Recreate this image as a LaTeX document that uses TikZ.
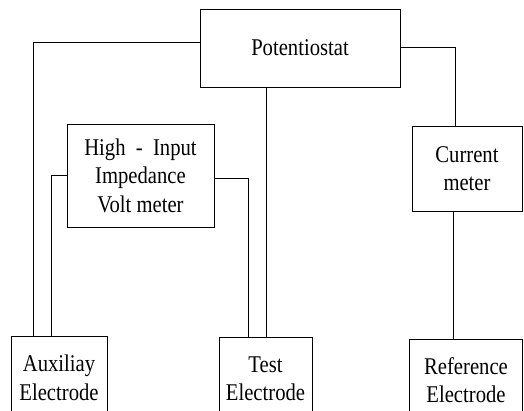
\documentclass[tikz,border=0pt]{standalone}
\usepackage{fontspec}
\setmainfont[FakeStretch=0.86]{Liberation Serif}
\begin{document}
\begin{tikzpicture}[x=1pt,y=-1pt,
  blk/.style={draw, line width=0.7pt, inner sep=0pt, align=center,
    font=\fontsize{24}{28.5}\selectfont},
  wire/.style={line width=0.7pt}]
\useasboundingbox (0,0) rectangle (524,410);
\clip (0,0) rectangle (524,410);
\node[blk, minimum width=200pt, minimum height=78pt] (pot) at (300,48) {Potentiostat};
\node[blk, minimum width=147pt, minimum height=103pt] (vm) at (140.5,175.5) {High \ - \ Input\\Impedance\\Volt meter};
\node[blk, minimum width=110pt, minimum height=85pt] (cm) at (467,168.5) {Current\\meter};
\node[blk, minimum width=96pt, minimum height=84pt] (aux) at (59,378) {Auxiliay\\Electrode};
\node[blk, minimum width=93pt, minimum height=84pt] (test) at (265.5,379) {Test\\Electrode};
\node[blk, minimum width=113pt, minimum height=82pt] (ref) at (466,380) {Reference\\Electrode};
% connectors
\draw[wire] ([yshift=6pt]pot.west) -| ([xshift=-26pt]aux.north);
\draw[wire] ([yshift=1pt]pot.east) -| ([xshift=-12pt]cm.north);
\draw[wire] ([xshift=-34pt]pot.south) -- ([xshift=-34pt]pot.south |- test.north);
\draw[wire] (vm.west) -| ([xshift=-8pt]aux.north);
\draw[wire] ([yshift=-2.5pt]vm.east) -| ([xshift=-17.5pt]test.north);
\draw[wire] ([xshift=-14pt]cm.south) -- ([xshift=-14pt]cm.south |- ref.north);
\end{tikzpicture}
\end{document}
